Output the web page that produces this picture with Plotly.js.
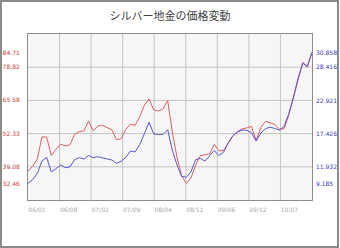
<!DOCTYPE html>
<html>
<head>
<meta charset="utf-8">
<script src="https://cdn.plot.ly/plotly-3.0.1.min.js"></script>
<style>
html,body{margin:0;padding:0;background:#fff;}
#chart{width:340px;height:248px;}
</style>
</head>
<body>
<div id="chart"></div>
<script>
// Monthly prices, 2006/01 .. 2011/02
var redSeries = [37.3, 39.3, 42.2, 51.0, 51.0, 43.6, 46.0, 48.1, 47.4, 47.8,
                 52.0, 53.1, 53.4, 57.3, 53.5, 55.3, 55.6, 54.9, 53.9, 49.9,
                 50.3, 54.0, 56.1, 55.6, 59.2, 63.6, 66.2, 61.8, 61.3, 62.2,
                 65.5, 53.0, 42.9, 35.5, 32.46, 34.6, 39.7, 43.5, 43.8, 44.2,
                 48.0, 45.5, 45.6, 48.6, 51.3, 53.1, 54.2, 54.6, 55.2, 49.6,
                 54.7, 57.2, 56.7, 56.0, 54.0, 54.3, 59.6, 66.8, 74.1, 80.7,
                 79.2, 84.71];
var blueSeries = [9.185, 9.82, 10.8, 12.9, 13.5, 11.1, 11.6, 12.24, 11.8, 11.9,
                  13.1, 13.45, 13.2, 13.8, 13.45, 13.6, 13.4, 13.2, 13.06, 12.5,
                  12.85, 13.5, 14.55, 14.4, 15.6, 17.4, 19.3, 17.4, 17.25, 17.3,
                  18.07, 14.65, 12.26, 10.36, 10.2, 11.1, 13.1, 13.33, 12.87, 13.73,
                  14.64, 13.78, 14.35, 15.9, 17.08, 17.69, 18.0, 17.97, 17.58, 16.2,
                  17.5, 18.24, 18.5, 18.27, 18.0, 18.6, 20.7, 23.4, 26.57, 29.07,
                  28.5, 30.858];
var xTickLabels = ["06/01", "06/08", "07/02", "07/09", "08/04", "08/11", "09/06", "09/12", "10/07"];
var leftTicks = [32.46, 39.08, 52.33, 65.58, 78.82, 84.71];
var leftTickText = ["32.46", "39.08", "52.33", "65.58", "78.82", "84.71"];
var rightTicks = [9.185, 11.932, 17.426, 22.921, 28.416, 30.858];
var rightTickText = ["9.185", "11.932", "17.426", "22.921", "28.416", "30.858"];
var leftRange = [25.835, 92.07];
var rightRange = [6.4375, 33.9105];

var n = redSeries.length;
var xs = [];
for (var i = 0; i < n; i++) xs.push(i);
var nIntervals = xTickLabels.length;
var xTickVals = xTickLabels.map(function (_, k) { return k * (n - 1) / nIntervals; });

var shapes = [];
var gridColor = '#c4c4c4';
for (var k = 1; k < nIntervals; k++) {
  shapes.push({type: 'line', xref: 'paper', yref: 'paper', x0: k / nIntervals, x1: k / nIntervals, y0: 0, y1: 1,
               line: {color: gridColor, width: 1}, layer: 'below'});
}
for (var j = 1; j < 5; j++) {
  shapes.push({type: 'line', xref: 'paper', yref: 'paper', x0: 0, x1: 1, y0: j / 5, y1: j / 5,
               line: {color: gridColor, width: 1}, layer: 'below'});
}
// outer frame of the picture
var W = 340, H = 248, ml = 28, mr = 28, mt = 34, mb = 48;
var pw = W - ml - mr, ph = H - mt - mb;
shapes.push({type: 'rect', xref: 'paper', yref: 'paper',
  x0: (1 - ml) / pw, x1: (W - 2 - ml) / pw,
  y0: (H - mb - (H - 1)) / ph, y1: (H - mb - 1) / ph,
  line: {color: '#8a8a8a', width: 2}, fillcolor: 'rgba(0,0,0,0)'});

var traces = [
  {x: xs, y: redSeries, type: 'scatter', mode: 'lines', yaxis: 'y',
   line: {color: '#dc5f63', width: 1}, hoverinfo: 'skip'},
  {x: xs, y: blueSeries, type: 'scatter', mode: 'lines', yaxis: 'y2',
   line: {color: '#5656cc', width: 1}, hoverinfo: 'skip'}
];

var tickFamily = 'DejaVu Sans';
var layout = {
  width: W, height: H,
  margin: {l: ml, r: mr, t: mt, b: mb, pad: 0},
  paper_bgcolor: '#ffffff',
  plot_bgcolor: '#f6f6f6',
  showlegend: false,
  title: {text: 'シルバー地金の価格変動', x: 0.5, xanchor: 'center', y: 1 - 16 / H, yanchor: 'middle', yref: 'container',
          font: {family: 'Noto Sans CJK JP', size: 11, color: '#444444'}},
  xaxis: {range: [0, n - 1], tickmode: 'array', tickvals: xTickVals, ticktext: xTickLabels,
          showgrid: false, zeroline: false, showline: true, mirror: true, linecolor: '#8c8c8c', linewidth: 1,
          ticks: '', ticklabelshift: 9, ticklabelstandoff: 4,
          tickfont: {family: tickFamily, size: 6, color: '#a8a8a8'}},
  yaxis: {range: leftRange, tickmode: 'array', tickvals: leftTicks, ticktext: leftTickText,
          showgrid: false, zeroline: false, showline: true, mirror: true, linecolor: '#8c8c8c', linewidth: 1,
          ticks: '', ticklabelstandoff: 6,
          tickfont: {family: tickFamily, size: 6, color: '#cc3b3b'}},
  yaxis2: {range: rightRange, overlaying: 'y', side: 'right', tickmode: 'array', tickvals: rightTicks, ticktext: rightTickText,
           showgrid: false, zeroline: false, showline: false,
           ticks: '', ticklabelstandoff: 3,
           tickfont: {family: tickFamily, size: 6, color: '#3b3bbf'}},
  shapes: shapes
};

Plotly.newPlot('chart', traces, layout, {staticPlot: true, displayModeBar: false});
</script>
</body>
</html>
